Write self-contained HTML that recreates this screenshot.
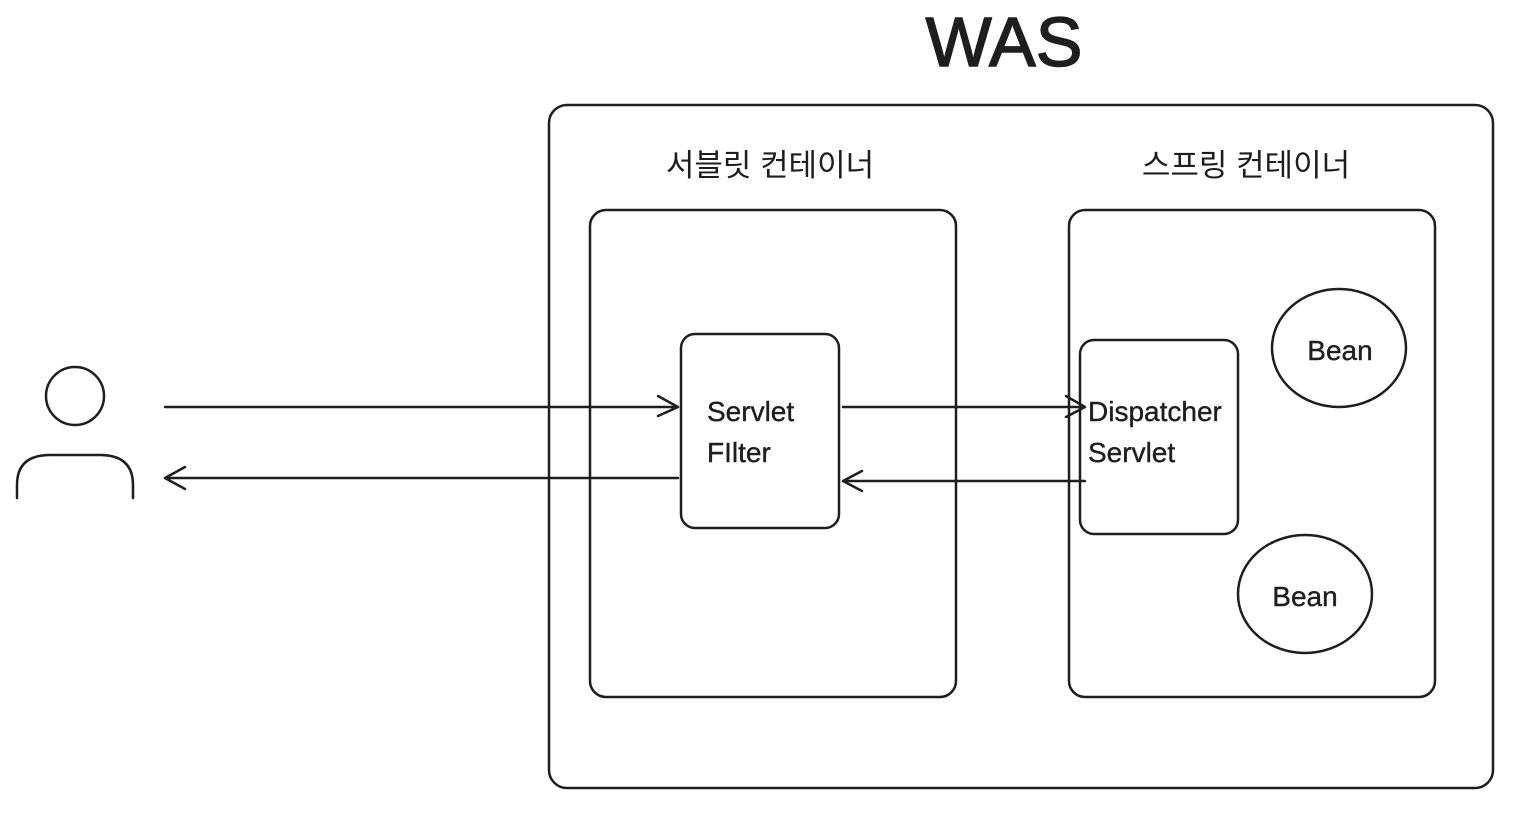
<!DOCTYPE html>
<html><head><meta charset="utf-8"><style>
html,body{margin:0;padding:0;background:#fff;}
svg{display:block;}
text{font-family:"Liberation Sans","Noto Sans CJK KR",sans-serif;fill:#1e1e1e;}
</style></head><body>
<svg width="1532" height="818" viewBox="0 0 1532 818" xmlns="http://www.w3.org/2000/svg">
<g fill="none" stroke="#1e1e1e" stroke-width="2.5" stroke-linecap="round" stroke-linejoin="round">
<rect x="549" y="105" width="944" height="683" rx="18"/>
<rect x="590" y="210" width="366" height="487" rx="16"/>
<rect x="1069" y="210" width="366" height="487" rx="16"/>
<rect x="681" y="334" width="158" height="194" rx="14"/>
<rect x="1080" y="340" width="158" height="194" rx="14"/>
<ellipse cx="1339" cy="348" rx="67" ry="59"/>
<ellipse cx="1305" cy="594" rx="67" ry="59"/>
<ellipse cx="75" cy="396" rx="29" ry="29"/>
<path d="M17 498 V485 Q17 455 50 455 H100 Q133 455 133 485 V498"/>
<path d="M165 407 H678 M658 396 L678 407 L658 416"/>
<path d="M678 478 H165 M185 467 L165 478 L185 489"/>
<path d="M843 407 H1085 M1066 396 L1085 407 L1066 417"/>
<path d="M1085 481 H843 M862 471 L843 481 L862 491"/>
</g>
<text x="1004" y="66" font-size="70" text-anchor="middle" stroke="#1e1e1e" stroke-width="1.5">WAS</text>
<text x="770" y="176" font-size="31" text-anchor="middle">서블릿 컨테이너</text>
<text x="1246" y="176" font-size="31" text-anchor="middle">스프링 컨테이너</text>
<g font-size="28" stroke="#1e1e1e" stroke-width="0.4">
<text x="707" y="421">Servlet</text>
<text x="707" y="462">FIlter</text>
<text x="1088" y="421">Dispatcher</text>
<text x="1088" y="462">Servlet</text>
<text x="1340" y="360" text-anchor="middle">Bean</text>
<text x="1305" y="606" text-anchor="middle">Bean</text>
</g>
</svg>
</body></html>
